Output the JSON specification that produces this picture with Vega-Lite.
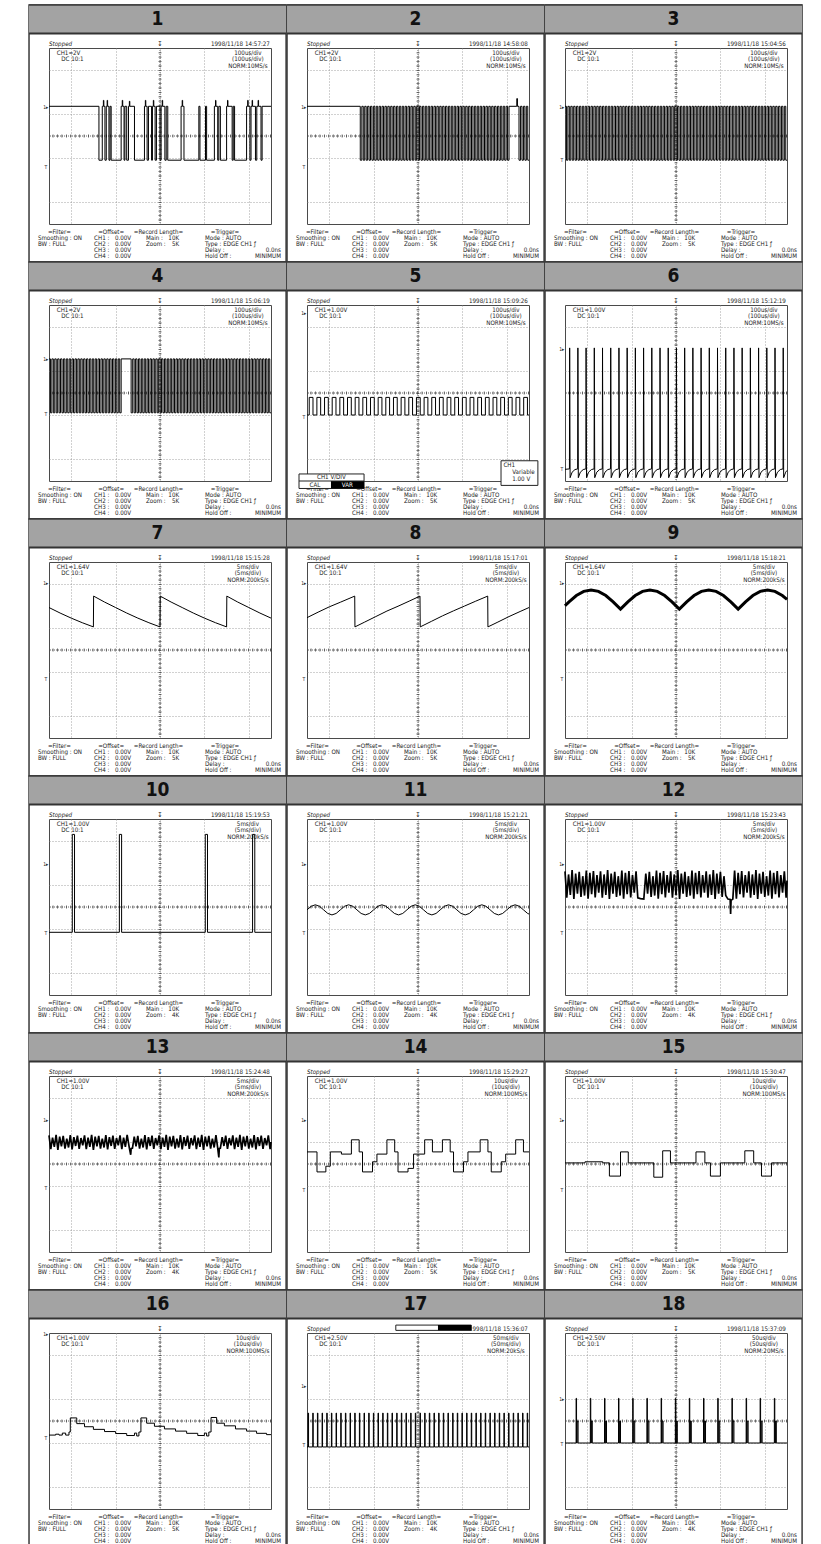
{
"$schema":"https://vega.github.io/schema/vega-lite/v6.json",
"background":"white",
"padding":{"left":27,"top":2,"right":0,"bottom":0},
"data":{"values":[
{"p":1,"x":0,"y":1.35},{"p":1,"x":2.25,"y":-1.1},{"p":1,"x":2.4,"y":1.35},{"p":1,"x":2.45,"y":1.62},{"p":1,"x":2.47,"y":1.35},{"p":1,"x":2.52,"y":-1.1},{"p":1,"x":2.58,"y":1.35},{"p":1,"x":2.62,"y":1.62},{"p":1,"x":2.64,"y":1.35},{"p":1,"x":2.7,"y":-1.1},{"p":1,"x":2.75,"y":1.35},{"p":1,"x":2.8,"y":-1.1},{"p":1,"x":3.25,"y":1.35},{"p":1,"x":3.3,"y":1.62},{"p":1,"x":3.32,"y":1.35},{"p":1,"x":3.38,"y":-1.1},{"p":1,"x":3.42,"y":1.35},{"p":1,"x":3.5,"y":-1.1},{"p":1,"x":3.58,"y":1.35},{"p":1,"x":3.62,"y":1.58},{"p":1,"x":3.64,"y":1.35},{"p":1,"x":3.85,"y":-1.1},{"p":1,"x":4.3,"y":1.35},{"p":1,"x":4.34,"y":1.62},{"p":1,"x":4.36,"y":1.35},{"p":1,"x":4.42,"y":-1.1},{"p":1,"x":4.48,"y":1.35},{"p":1,"x":4.62,"y":-1.1},{"p":1,"x":4.66,"y":1.35},{"p":1,"x":4.7,"y":1.62},{"p":1,"x":4.72,"y":1.35},{"p":1,"x":4.78,"y":-1.1},{"p":1,"x":4.84,"y":1.35},{"p":1,"x":5.0,"y":-1.1},{"p":1,"x":5.05,"y":1.35},{"p":1,"x":5.1,"y":1.62},{"p":1,"x":5.12,"y":1.35},{"p":1,"x":5.22,"y":-1.1},{"p":1,"x":5.28,"y":1.35},{"p":1,"x":5.35,"y":-1.1},{"p":1,"x":5.95,"y":1.35},{"p":1,"x":6.0,"y":1.62},{"p":1,"x":6.02,"y":1.35},{"p":1,"x":6.08,"y":-1.1},{"p":1,"x":6.75,"y":1.35},{"p":1,"x":6.8,"y":-1.1},{"p":1,"x":7.05,"y":1.35},{"p":1,"x":7.1,"y":-1.1},{"p":1,"x":7.45,"y":1.35},{"p":1,"x":7.5,"y":1.62},{"p":1,"x":7.52,"y":1.35},{"p":1,"x":7.6,"y":-1.1},{"p":1,"x":7.65,"y":1.35},{"p":1,"x":7.72,"y":-1.1},{"p":1,"x":8.0,"y":1.35},{"p":1,"x":8.04,"y":1.62},{"p":1,"x":8.06,"y":1.35},{"p":1,"x":8.25,"y":-1.1},{"p":1,"x":8.3,"y":1.35},{"p":1,"x":8.36,"y":-1.1},{"p":1,"x":8.9,"y":1.35},{"p":1,"x":8.95,"y":1.62},{"p":1,"x":8.97,"y":1.35},{"p":1,"x":9.05,"y":-1.1},{"p":1,"x":9.1,"y":1.35},{"p":1,"x":9.15,"y":1.62},{"p":1,"x":9.17,"y":1.35},{"p":1,"x":9.3,"y":-1.1},{"p":1,"x":9.36,"y":1.35},{"p":1,"x":9.42,"y":1.62},{"p":1,"x":9.44,"y":1.35},{"p":1,"x":9.55,"y":-1.1},{"p":1,"x":9.6,"y":1.35},{"p":1,"x":10,"y":1.35},
{"p":2,"x":0,"y":1.35},{"p":2,"x":2.4,"y":-1.1},{"p":2,"x":2.47,"y":1.35},{"p":2,"x":2.535,"y":-1.1},{"p":2,"x":2.6,"y":1.35},{"p":2,"x":2.665,"y":-1.1},{"p":2,"x":2.73,"y":1.35},{"p":2,"x":2.795,"y":-1.1},{"p":2,"x":2.86,"y":1.35},{"p":2,"x":2.925,"y":-1.1},{"p":2,"x":2.99,"y":1.35},{"p":2,"x":3.055,"y":-1.1},{"p":2,"x":3.12,"y":1.35},{"p":2,"x":3.185,"y":-1.1},{"p":2,"x":3.25,"y":1.35},{"p":2,"x":3.315,"y":-1.1},{"p":2,"x":3.38,"y":1.35},{"p":2,"x":3.445,"y":-1.1},{"p":2,"x":3.51,"y":1.35},{"p":2,"x":3.575,"y":-1.1},{"p":2,"x":3.64,"y":1.35},{"p":2,"x":3.705,"y":-1.1},{"p":2,"x":3.77,"y":1.35},{"p":2,"x":3.835,"y":-1.1},{"p":2,"x":3.9,"y":1.35},{"p":2,"x":3.965,"y":-1.1},{"p":2,"x":4.03,"y":1.35},{"p":2,"x":4.095,"y":-1.1},{"p":2,"x":4.16,"y":1.35},{"p":2,"x":4.225,"y":-1.1},{"p":2,"x":4.29,"y":1.35},{"p":2,"x":4.355,"y":-1.1},{"p":2,"x":4.42,"y":1.35},{"p":2,"x":4.485,"y":-1.1},{"p":2,"x":4.55,"y":1.35},{"p":2,"x":4.615,"y":-1.1},{"p":2,"x":4.68,"y":1.35},{"p":2,"x":4.745,"y":-1.1},{"p":2,"x":4.81,"y":1.35},{"p":2,"x":4.875,"y":-1.1},{"p":2,"x":4.94,"y":1.35},{"p":2,"x":5.005,"y":-1.1},{"p":2,"x":5.07,"y":1.35},{"p":2,"x":5.135,"y":-1.1},{"p":2,"x":5.2,"y":1.35},{"p":2,"x":5.265,"y":-1.1},{"p":2,"x":5.33,"y":1.35},{"p":2,"x":5.395,"y":-1.1},{"p":2,"x":5.46,"y":1.35},{"p":2,"x":5.525,"y":-1.1},{"p":2,"x":5.59,"y":1.35},{"p":2,"x":5.655,"y":-1.1},{"p":2,"x":5.72,"y":1.35},{"p":2,"x":5.785,"y":-1.1},{"p":2,"x":5.85,"y":1.35},{"p":2,"x":5.915,"y":-1.1},{"p":2,"x":5.98,"y":1.35},{"p":2,"x":6.045,"y":-1.1},{"p":2,"x":6.11,"y":1.35},{"p":2,"x":6.175,"y":-1.1},{"p":2,"x":6.24,"y":1.35},{"p":2,"x":6.305,"y":-1.1},{"p":2,"x":6.37,"y":1.35},{"p":2,"x":6.435,"y":-1.1},{"p":2,"x":6.5,"y":1.35},{"p":2,"x":6.565,"y":-1.1},{"p":2,"x":6.63,"y":1.35},{"p":2,"x":6.695,"y":-1.1},{"p":2,"x":6.76,"y":1.35},{"p":2,"x":6.825,"y":-1.1},{"p":2,"x":6.89,"y":1.35},{"p":2,"x":6.955,"y":-1.1},{"p":2,"x":7.02,"y":1.35},{"p":2,"x":7.085,"y":-1.1},{"p":2,"x":7.15,"y":1.35},{"p":2,"x":7.215,"y":-1.1},{"p":2,"x":7.28,"y":1.35},{"p":2,"x":7.345,"y":-1.1},{"p":2,"x":7.41,"y":1.35},{"p":2,"x":7.475,"y":-1.1},{"p":2,"x":7.54,"y":1.35},{"p":2,"x":7.605,"y":-1.1},{"p":2,"x":7.67,"y":1.35},{"p":2,"x":7.735,"y":-1.1},{"p":2,"x":7.8,"y":1.35},{"p":2,"x":7.865,"y":-1.1},{"p":2,"x":7.93,"y":1.35},{"p":2,"x":7.995,"y":-1.1},{"p":2,"x":8.06,"y":1.35},{"p":2,"x":8.125,"y":-1.1},{"p":2,"x":8.19,"y":1.35},{"p":2,"x":8.255,"y":-1.1},{"p":2,"x":8.32,"y":1.35},{"p":2,"x":8.385,"y":-1.1},{"p":2,"x":8.45,"y":1.35},{"p":2,"x":8.515,"y":-1.1},{"p":2,"x":8.58,"y":1.35},{"p":2,"x":8.645,"y":-1.1},{"p":2,"x":8.71,"y":1.35},{"p":2,"x":8.775,"y":-1.1},{"p":2,"x":8.84,"y":1.35},{"p":2,"x":8.905,"y":-1.1},{"p":2,"x":8.97,"y":1.35},{"p":2,"x":9.035,"y":-1.1},{"p":2,"x":9.1,"y":1.35},{"p":2,"x":9.45,"y":1.7},{"p":2,"x":9.48,"y":1.35},{"p":2,"x":9.55,"y":-1.1},{"p":2,"x":9.62,"y":1.35},{"p":2,"x":9.685,"y":-1.1},{"p":2,"x":9.75,"y":1.35},{"p":2,"x":9.815,"y":-1.1},{"p":2,"x":9.88,"y":1.35},{"p":2,"x":9.945,"y":-1.1},{"p":2,"x":10,"y":-1.1},
{"p":3,"x":0,"y":1.35},{"p":3,"x":0.065,"y":-1.1},{"p":3,"x":0.13,"y":1.35},{"p":3,"x":0.195,"y":-1.1},{"p":3,"x":0.26,"y":1.35},{"p":3,"x":0.325,"y":-1.1},{"p":3,"x":0.39,"y":1.35},{"p":3,"x":0.455,"y":-1.1},{"p":3,"x":0.52,"y":1.35},{"p":3,"x":0.585,"y":-1.1},{"p":3,"x":0.65,"y":1.35},{"p":3,"x":0.715,"y":-1.1},{"p":3,"x":0.78,"y":1.35},{"p":3,"x":0.845,"y":-1.1},{"p":3,"x":0.91,"y":1.35},{"p":3,"x":0.975,"y":-1.1},{"p":3,"x":1.04,"y":1.35},{"p":3,"x":1.105,"y":-1.1},{"p":3,"x":1.17,"y":1.35},{"p":3,"x":1.235,"y":-1.1},{"p":3,"x":1.3,"y":1.35},{"p":3,"x":1.365,"y":-1.1},{"p":3,"x":1.43,"y":1.35},{"p":3,"x":1.495,"y":-1.1},{"p":3,"x":1.56,"y":1.35},{"p":3,"x":1.625,"y":-1.1},{"p":3,"x":1.69,"y":1.35},{"p":3,"x":1.755,"y":-1.1},{"p":3,"x":1.82,"y":1.35},{"p":3,"x":1.885,"y":-1.1},{"p":3,"x":1.95,"y":1.35},{"p":3,"x":2.015,"y":-1.1},{"p":3,"x":2.08,"y":1.35},{"p":3,"x":2.145,"y":-1.1},{"p":3,"x":2.21,"y":1.35},{"p":3,"x":2.275,"y":-1.1},{"p":3,"x":2.34,"y":1.35},{"p":3,"x":2.405,"y":-1.1},{"p":3,"x":2.47,"y":1.35},{"p":3,"x":2.535,"y":-1.1},{"p":3,"x":2.6,"y":1.35},{"p":3,"x":2.665,"y":-1.1},{"p":3,"x":2.73,"y":1.35},{"p":3,"x":2.795,"y":-1.1},{"p":3,"x":2.86,"y":1.35},{"p":3,"x":2.925,"y":-1.1},{"p":3,"x":2.99,"y":1.35},{"p":3,"x":3.055,"y":-1.1},{"p":3,"x":3.12,"y":1.35},{"p":3,"x":3.185,"y":-1.1},{"p":3,"x":3.25,"y":1.35},{"p":3,"x":3.315,"y":-1.1},{"p":3,"x":3.38,"y":1.35},{"p":3,"x":3.445,"y":-1.1},{"p":3,"x":3.51,"y":1.35},{"p":3,"x":3.575,"y":-1.1},{"p":3,"x":3.64,"y":1.35},{"p":3,"x":3.705,"y":-1.1},{"p":3,"x":3.77,"y":1.35},{"p":3,"x":3.835,"y":-1.1},{"p":3,"x":3.9,"y":1.35},{"p":3,"x":3.965,"y":-1.1},{"p":3,"x":4.03,"y":1.35},{"p":3,"x":4.095,"y":-1.1},{"p":3,"x":4.16,"y":1.35},{"p":3,"x":4.225,"y":-1.1},{"p":3,"x":4.29,"y":1.35},{"p":3,"x":4.355,"y":-1.1},{"p":3,"x":4.42,"y":1.35},{"p":3,"x":4.485,"y":-1.1},{"p":3,"x":4.55,"y":1.35},{"p":3,"x":4.615,"y":-1.1},{"p":3,"x":4.68,"y":1.35},{"p":3,"x":4.745,"y":-1.1},{"p":3,"x":4.81,"y":1.35},{"p":3,"x":4.875,"y":-1.1},{"p":3,"x":4.94,"y":1.35},{"p":3,"x":5.005,"y":-1.1},{"p":3,"x":5.07,"y":1.35},{"p":3,"x":5.135,"y":-1.1},{"p":3,"x":5.2,"y":1.35},{"p":3,"x":5.265,"y":-1.1},{"p":3,"x":5.33,"y":1.35},{"p":3,"x":5.395,"y":-1.1},{"p":3,"x":5.46,"y":1.35},{"p":3,"x":5.525,"y":-1.1},{"p":3,"x":5.59,"y":1.35},{"p":3,"x":5.655,"y":-1.1},{"p":3,"x":5.72,"y":1.35},{"p":3,"x":5.785,"y":-1.1},{"p":3,"x":5.85,"y":1.35},{"p":3,"x":5.915,"y":-1.1},{"p":3,"x":5.98,"y":1.35},{"p":3,"x":6.045,"y":-1.1},{"p":3,"x":6.11,"y":1.35},{"p":3,"x":6.175,"y":-1.1},{"p":3,"x":6.24,"y":1.35},{"p":3,"x":6.305,"y":-1.1},{"p":3,"x":6.37,"y":1.35},{"p":3,"x":6.435,"y":-1.1},{"p":3,"x":6.5,"y":1.35},{"p":3,"x":6.565,"y":-1.1},{"p":3,"x":6.63,"y":1.35},{"p":3,"x":6.695,"y":-1.1},{"p":3,"x":6.76,"y":1.35},{"p":3,"x":6.825,"y":-1.1},{"p":3,"x":6.89,"y":1.35},{"p":3,"x":6.955,"y":-1.1},{"p":3,"x":7.02,"y":1.35},{"p":3,"x":7.085,"y":-1.1},{"p":3,"x":7.15,"y":1.35},{"p":3,"x":7.215,"y":-1.1},{"p":3,"x":7.28,"y":1.35},{"p":3,"x":7.345,"y":-1.1},{"p":3,"x":7.41,"y":1.35},{"p":3,"x":7.475,"y":-1.1},{"p":3,"x":7.54,"y":1.35},{"p":3,"x":7.605,"y":-1.1},{"p":3,"x":7.67,"y":1.35},{"p":3,"x":7.735,"y":-1.1},{"p":3,"x":7.8,"y":1.35},{"p":3,"x":7.865,"y":-1.1},{"p":3,"x":7.93,"y":1.35},{"p":3,"x":7.995,"y":-1.1},{"p":3,"x":8.06,"y":1.35},{"p":3,"x":8.125,"y":-1.1},{"p":3,"x":8.19,"y":1.35},{"p":3,"x":8.255,"y":-1.1},{"p":3,"x":8.32,"y":1.35},{"p":3,"x":8.385,"y":-1.1},{"p":3,"x":8.45,"y":1.35},{"p":3,"x":8.515,"y":-1.1},{"p":3,"x":8.58,"y":1.35},{"p":3,"x":8.645,"y":-1.1},{"p":3,"x":8.71,"y":1.35},{"p":3,"x":8.775,"y":-1.1},{"p":3,"x":8.84,"y":1.35},{"p":3,"x":8.905,"y":-1.1},{"p":3,"x":8.97,"y":1.35},{"p":3,"x":9.035,"y":-1.1},{"p":3,"x":9.1,"y":1.35},{"p":3,"x":9.165,"y":-1.1},{"p":3,"x":9.23,"y":1.35},{"p":3,"x":9.295,"y":-1.1},{"p":3,"x":9.36,"y":1.35},{"p":3,"x":9.425,"y":-1.1},{"p":3,"x":9.49,"y":1.35},{"p":3,"x":9.555,"y":-1.1},{"p":3,"x":9.62,"y":1.35},{"p":3,"x":9.685,"y":-1.1},{"p":3,"x":9.75,"y":1.35},{"p":3,"x":9.815,"y":-1.1},{"p":3,"x":9.88,"y":1.35},{"p":3,"x":9.945,"y":-1.1},{"p":3,"x":10,"y":-1.1},
{"p":4,"x":0,"y":1.55},{"p":4,"x":0.065,"y":-0.9},{"p":4,"x":0.13,"y":1.55},{"p":4,"x":0.195,"y":-0.9},{"p":4,"x":0.26,"y":1.55},{"p":4,"x":0.325,"y":-0.9},{"p":4,"x":0.39,"y":1.55},{"p":4,"x":0.455,"y":-0.9},{"p":4,"x":0.52,"y":1.55},{"p":4,"x":0.585,"y":-0.9},{"p":4,"x":0.65,"y":1.55},{"p":4,"x":0.715,"y":-0.9},{"p":4,"x":0.78,"y":1.55},{"p":4,"x":0.845,"y":-0.9},{"p":4,"x":0.91,"y":1.55},{"p":4,"x":0.975,"y":-0.9},{"p":4,"x":1.04,"y":1.55},{"p":4,"x":1.105,"y":-0.9},{"p":4,"x":1.17,"y":1.55},{"p":4,"x":1.235,"y":-0.9},{"p":4,"x":1.3,"y":1.55},{"p":4,"x":1.365,"y":-0.9},{"p":4,"x":1.43,"y":1.55},{"p":4,"x":1.495,"y":-0.9},{"p":4,"x":1.56,"y":1.55},{"p":4,"x":1.625,"y":-0.9},{"p":4,"x":1.69,"y":1.55},{"p":4,"x":1.755,"y":-0.9},{"p":4,"x":1.82,"y":1.55},{"p":4,"x":1.885,"y":-0.9},{"p":4,"x":1.95,"y":1.55},{"p":4,"x":2.015,"y":-0.9},{"p":4,"x":2.08,"y":1.55},{"p":4,"x":2.145,"y":-0.9},{"p":4,"x":2.21,"y":1.55},{"p":4,"x":2.275,"y":-0.9},{"p":4,"x":2.34,"y":1.55},{"p":4,"x":2.405,"y":-0.9},{"p":4,"x":2.47,"y":1.55},{"p":4,"x":2.535,"y":-0.9},{"p":4,"x":2.6,"y":1.55},{"p":4,"x":2.665,"y":-0.9},{"p":4,"x":2.73,"y":1.55},{"p":4,"x":2.795,"y":-0.9},{"p":4,"x":2.86,"y":1.55},{"p":4,"x":2.925,"y":-0.9},{"p":4,"x":2.99,"y":1.55},{"p":4,"x":3.055,"y":-0.9},{"p":4,"x":3.12,"y":1.55},{"p":4,"x":3.185,"y":-0.9},{"p":4,"x":3.25,"y":1.55},{"p":4,"x":3.7,"y":-0.9},{"p":4,"x":3.77,"y":1.55},{"p":4,"x":3.835,"y":-0.9},{"p":4,"x":3.9,"y":1.55},{"p":4,"x":3.965,"y":-0.9},{"p":4,"x":4.03,"y":1.55},{"p":4,"x":4.095,"y":-0.9},{"p":4,"x":4.16,"y":1.55},{"p":4,"x":4.225,"y":-0.9},{"p":4,"x":4.29,"y":1.55},{"p":4,"x":4.355,"y":-0.9},{"p":4,"x":4.42,"y":1.55},{"p":4,"x":4.485,"y":-0.9},{"p":4,"x":4.55,"y":1.55},{"p":4,"x":4.615,"y":-0.9},{"p":4,"x":4.68,"y":1.55},{"p":4,"x":4.745,"y":-0.9},{"p":4,"x":4.81,"y":1.55},{"p":4,"x":4.875,"y":-0.9},{"p":4,"x":4.94,"y":1.55},{"p":4,"x":5.005,"y":-0.9},{"p":4,"x":5.07,"y":1.55},{"p":4,"x":5.135,"y":-0.9},{"p":4,"x":5.2,"y":1.55},{"p":4,"x":5.265,"y":-0.9},{"p":4,"x":5.33,"y":1.55},{"p":4,"x":5.395,"y":-0.9},{"p":4,"x":5.46,"y":1.55},{"p":4,"x":5.525,"y":-0.9},{"p":4,"x":5.59,"y":1.55},{"p":4,"x":5.655,"y":-0.9},{"p":4,"x":5.72,"y":1.55},{"p":4,"x":5.785,"y":-0.9},{"p":4,"x":5.85,"y":1.55},{"p":4,"x":5.915,"y":-0.9},{"p":4,"x":5.98,"y":1.55},{"p":4,"x":6.045,"y":-0.9},{"p":4,"x":6.11,"y":1.55},{"p":4,"x":6.175,"y":-0.9},{"p":4,"x":6.24,"y":1.55},{"p":4,"x":6.305,"y":-0.9},{"p":4,"x":6.37,"y":1.55},{"p":4,"x":6.435,"y":-0.9},{"p":4,"x":6.5,"y":1.55},{"p":4,"x":6.565,"y":-0.9},{"p":4,"x":6.63,"y":1.55},{"p":4,"x":6.695,"y":-0.9},{"p":4,"x":6.76,"y":1.55},{"p":4,"x":6.825,"y":-0.9},{"p":4,"x":6.89,"y":1.55},{"p":4,"x":6.955,"y":-0.9},{"p":4,"x":7.02,"y":1.55},{"p":4,"x":7.085,"y":-0.9},{"p":4,"x":7.15,"y":1.55},{"p":4,"x":7.215,"y":-0.9},{"p":4,"x":7.28,"y":1.55},{"p":4,"x":7.345,"y":-0.9},{"p":4,"x":7.41,"y":1.55},{"p":4,"x":7.475,"y":-0.9},{"p":4,"x":7.54,"y":1.55},{"p":4,"x":7.605,"y":-0.9},{"p":4,"x":7.67,"y":1.55},{"p":4,"x":7.735,"y":-0.9},{"p":4,"x":7.8,"y":1.55},{"p":4,"x":7.865,"y":-0.9},{"p":4,"x":7.93,"y":1.55},{"p":4,"x":7.995,"y":-0.9},{"p":4,"x":8.06,"y":1.55},{"p":4,"x":8.125,"y":-0.9},{"p":4,"x":8.19,"y":1.55},{"p":4,"x":8.255,"y":-0.9},{"p":4,"x":8.32,"y":1.55},{"p":4,"x":8.385,"y":-0.9},{"p":4,"x":8.45,"y":1.55},{"p":4,"x":8.515,"y":-0.9},{"p":4,"x":8.58,"y":1.55},{"p":4,"x":8.645,"y":-0.9},{"p":4,"x":8.71,"y":1.55},{"p":4,"x":8.775,"y":-0.9},{"p":4,"x":8.84,"y":1.55},{"p":4,"x":8.905,"y":-0.9},{"p":4,"x":8.97,"y":1.55},{"p":4,"x":9.035,"y":-0.9},{"p":4,"x":9.1,"y":1.55},{"p":4,"x":9.165,"y":-0.9},{"p":4,"x":9.23,"y":1.55},{"p":4,"x":9.295,"y":-0.9},{"p":4,"x":9.36,"y":1.55},{"p":4,"x":9.425,"y":-0.9},{"p":4,"x":9.49,"y":1.55},{"p":4,"x":9.555,"y":-0.9},{"p":4,"x":9.62,"y":1.55},{"p":4,"x":9.685,"y":-0.9},{"p":4,"x":9.75,"y":1.55},{"p":4,"x":9.815,"y":-0.9},{"p":4,"x":9.88,"y":1.55},{"p":4,"x":9.945,"y":-0.9},{"p":4,"x":10,"y":-0.9},
{"p":5,"x":0,"y":-1.0},{"p":5,"x":0.1,"y":-0.2},{"p":5,"x":0.27,"y":-1.0},{"p":5,"x":0.445,"y":-0.2},{"p":5,"x":0.615,"y":-1.0},{"p":5,"x":0.79,"y":-0.2},{"p":5,"x":0.96,"y":-1.0},{"p":5,"x":1.135,"y":-0.2},{"p":5,"x":1.305,"y":-1.0},{"p":5,"x":1.48,"y":-0.2},{"p":5,"x":1.65,"y":-1.0},{"p":5,"x":1.825,"y":-0.2},{"p":5,"x":1.995,"y":-1.0},{"p":5,"x":2.17,"y":-0.2},{"p":5,"x":2.34,"y":-1.0},{"p":5,"x":2.515,"y":-0.2},{"p":5,"x":2.685,"y":-1.0},{"p":5,"x":2.86,"y":-0.2},{"p":5,"x":3.03,"y":-1.0},{"p":5,"x":3.205,"y":-0.2},{"p":5,"x":3.375,"y":-1.0},{"p":5,"x":3.55,"y":-0.2},{"p":5,"x":3.72,"y":-1.0},{"p":5,"x":3.895,"y":-0.2},{"p":5,"x":4.065,"y":-1.0},{"p":5,"x":4.24,"y":-0.2},{"p":5,"x":4.41,"y":-1.0},{"p":5,"x":4.585,"y":-0.2},{"p":5,"x":4.755,"y":-1.0},{"p":5,"x":4.93,"y":-0.2},{"p":5,"x":5.1,"y":-1.0},{"p":5,"x":5.275,"y":-0.2},{"p":5,"x":5.445,"y":-1.0},{"p":5,"x":5.62,"y":-0.2},{"p":5,"x":5.79,"y":-1.0},{"p":5,"x":5.965,"y":-0.2},{"p":5,"x":6.135,"y":-1.0},{"p":5,"x":6.31,"y":-0.2},{"p":5,"x":6.48,"y":-1.0},{"p":5,"x":6.655,"y":-0.2},{"p":5,"x":6.825,"y":-1.0},{"p":5,"x":7.0,"y":-0.2},{"p":5,"x":7.17,"y":-1.0},{"p":5,"x":7.345,"y":-0.2},{"p":5,"x":7.515,"y":-1.0},{"p":5,"x":7.69,"y":-0.2},{"p":5,"x":7.86,"y":-1.0},{"p":5,"x":8.035,"y":-0.2},{"p":5,"x":8.205,"y":-1.0},{"p":5,"x":8.38,"y":-0.2},{"p":5,"x":8.55,"y":-1.0},{"p":5,"x":8.725,"y":-0.2},{"p":5,"x":8.895,"y":-1.0},{"p":5,"x":9.07,"y":-0.2},{"p":5,"x":9.24,"y":-1.0},{"p":5,"x":9.415,"y":-0.2},{"p":5,"x":9.585,"y":-1.0},{"p":5,"x":9.76,"y":-0.2},{"p":5,"x":9.93,"y":-1.0},{"p":5,"x":10,"y":-1.0},
{"p":6,"x":0,"y":-3.47},{"p":6,"x":0.2,"y":-3.45},{"p":6,"x":0.21,"y":2.05},{"p":6,"x":0.23,"y":-3.85},{"p":6,"x":0.32,"y":-3.6},{"p":6,"x":0.45,"y":-3.48},{"p":6,"x":0.57,"y":-3.45},{"p":6,"x":0.58,"y":2.05},{"p":6,"x":0.6,"y":-3.85},{"p":6,"x":0.69,"y":-3.6},{"p":6,"x":0.82,"y":-3.48},{"p":6,"x":0.94,"y":-3.45},{"p":6,"x":0.95,"y":2.05},{"p":6,"x":0.97,"y":-3.85},{"p":6,"x":1.06,"y":-3.6},{"p":6,"x":1.19,"y":-3.48},{"p":6,"x":1.31,"y":-3.45},{"p":6,"x":1.32,"y":2.05},{"p":6,"x":1.34,"y":-3.85},{"p":6,"x":1.43,"y":-3.6},{"p":6,"x":1.56,"y":-3.48},{"p":6,"x":1.68,"y":-3.45},{"p":6,"x":1.69,"y":2.05},{"p":6,"x":1.71,"y":-3.85},{"p":6,"x":1.8,"y":-3.6},{"p":6,"x":1.93,"y":-3.48},{"p":6,"x":2.05,"y":-3.45},{"p":6,"x":2.06,"y":2.05},{"p":6,"x":2.08,"y":-3.85},{"p":6,"x":2.17,"y":-3.6},{"p":6,"x":2.3,"y":-3.48},{"p":6,"x":2.42,"y":-3.45},{"p":6,"x":2.43,"y":2.05},{"p":6,"x":2.45,"y":-3.85},{"p":6,"x":2.54,"y":-3.6},{"p":6,"x":2.67,"y":-3.48},{"p":6,"x":2.79,"y":-3.45},{"p":6,"x":2.8,"y":2.05},{"p":6,"x":2.82,"y":-3.85},{"p":6,"x":2.91,"y":-3.6},{"p":6,"x":3.04,"y":-3.48},{"p":6,"x":3.16,"y":-3.45},{"p":6,"x":3.17,"y":2.05},{"p":6,"x":3.19,"y":-3.85},{"p":6,"x":3.28,"y":-3.6},{"p":6,"x":3.41,"y":-3.48},{"p":6,"x":3.53,"y":-3.45},{"p":6,"x":3.54,"y":2.05},{"p":6,"x":3.56,"y":-3.85},{"p":6,"x":3.65,"y":-3.6},{"p":6,"x":3.78,"y":-3.48},{"p":6,"x":3.9,"y":-3.45},{"p":6,"x":3.91,"y":2.05},{"p":6,"x":3.93,"y":-3.85},{"p":6,"x":4.02,"y":-3.6},{"p":6,"x":4.15,"y":-3.48},{"p":6,"x":4.27,"y":-3.45},{"p":6,"x":4.28,"y":2.05},{"p":6,"x":4.3,"y":-3.85},{"p":6,"x":4.39,"y":-3.6},{"p":6,"x":4.52,"y":-3.48},{"p":6,"x":4.64,"y":-3.45},{"p":6,"x":4.65,"y":2.05},{"p":6,"x":4.67,"y":-3.85},{"p":6,"x":4.76,"y":-3.6},{"p":6,"x":4.89,"y":-3.48},{"p":6,"x":5.01,"y":-3.45},{"p":6,"x":5.02,"y":2.05},{"p":6,"x":5.04,"y":-3.85},{"p":6,"x":5.13,"y":-3.6},{"p":6,"x":5.26,"y":-3.48},{"p":6,"x":5.38,"y":-3.45},{"p":6,"x":5.39,"y":2.05},{"p":6,"x":5.41,"y":-3.85},{"p":6,"x":5.5,"y":-3.6},{"p":6,"x":5.63,"y":-3.48},{"p":6,"x":5.75,"y":-3.45},{"p":6,"x":5.76,"y":2.05},{"p":6,"x":5.78,"y":-3.85},{"p":6,"x":5.87,"y":-3.6},{"p":6,"x":6.0,"y":-3.48},{"p":6,"x":6.12,"y":-3.45},{"p":6,"x":6.13,"y":2.05},{"p":6,"x":6.15,"y":-3.85},{"p":6,"x":6.24,"y":-3.6},{"p":6,"x":6.37,"y":-3.48},{"p":6,"x":6.49,"y":-3.45},{"p":6,"x":6.5,"y":2.05},{"p":6,"x":6.52,"y":-3.85},{"p":6,"x":6.61,"y":-3.6},{"p":6,"x":6.74,"y":-3.48},{"p":6,"x":6.86,"y":-3.45},{"p":6,"x":6.87,"y":2.05},{"p":6,"x":6.89,"y":-3.85},{"p":6,"x":6.98,"y":-3.6},{"p":6,"x":7.11,"y":-3.48},{"p":6,"x":7.23,"y":-3.45},{"p":6,"x":7.24,"y":2.05},{"p":6,"x":7.26,"y":-3.85},{"p":6,"x":7.35,"y":-3.6},{"p":6,"x":7.48,"y":-3.48},{"p":6,"x":7.6,"y":-3.45},{"p":6,"x":7.61,"y":2.05},{"p":6,"x":7.63,"y":-3.85},{"p":6,"x":7.72,"y":-3.6},{"p":6,"x":7.85,"y":-3.48},{"p":6,"x":7.97,"y":-3.45},{"p":6,"x":7.98,"y":2.05},{"p":6,"x":8.0,"y":-3.85},{"p":6,"x":8.09,"y":-3.6},{"p":6,"x":8.22,"y":-3.48},{"p":6,"x":8.34,"y":-3.45},{"p":6,"x":8.35,"y":2.05},{"p":6,"x":8.37,"y":-3.85},{"p":6,"x":8.46,"y":-3.6},{"p":6,"x":8.59,"y":-3.48},{"p":6,"x":8.71,"y":-3.45},{"p":6,"x":8.72,"y":2.05},{"p":6,"x":8.74,"y":-3.85},{"p":6,"x":8.83,"y":-3.6},{"p":6,"x":8.96,"y":-3.48},{"p":6,"x":9.08,"y":-3.45},{"p":6,"x":9.09,"y":2.05},{"p":6,"x":9.11,"y":-3.85},{"p":6,"x":9.2,"y":-3.6},{"p":6,"x":9.33,"y":-3.48},{"p":6,"x":9.45,"y":-3.45},{"p":6,"x":9.46,"y":2.05},{"p":6,"x":9.48,"y":-3.85},{"p":6,"x":9.57,"y":-3.6},{"p":6,"x":9.7,"y":-3.48},{"p":6,"x":9.82,"y":-3.45},{"p":6,"x":9.83,"y":2.05},{"p":6,"x":9.85,"y":-3.85},{"p":6,"x":9.94,"y":-3.6},{"p":6,"x":10,"y":-3.52},
{"p":7,"x":0,"y":1.93},{"p":7,"x":0.5,"y":1.68},{"p":7,"x":1.0,"y":1.45},{"p":7,"x":1.5,"y":1.24},{"p":7,"x":2.0,"y":1.05},{"p":7,"x":2.01,"y":2.45},{"p":7,"x":2.5,"y":2.18},{"p":7,"x":3.0,"y":1.93},{"p":7,"x":3.5,"y":1.68},{"p":7,"x":4.0,"y":1.45},{"p":7,"x":4.5,"y":1.24},{"p":7,"x":5.0,"y":1.05},{"p":7,"x":5.01,"y":2.45},{"p":7,"x":5.5,"y":2.18},{"p":7,"x":6.0,"y":1.93},{"p":7,"x":6.5,"y":1.68},{"p":7,"x":7.0,"y":1.45},{"p":7,"x":7.5,"y":1.24},{"p":7,"x":8.0,"y":1.05},{"p":7,"x":8.01,"y":2.45},{"p":7,"x":8.5,"y":2.18},{"p":7,"x":9.0,"y":1.93},{"p":7,"x":9.5,"y":1.68},{"p":7,"x":10,"y":1.45},
{"p":8,"x":0,"y":1.47},{"p":8,"x":0.5,"y":1.72},{"p":8,"x":1.0,"y":1.96},{"p":8,"x":1.5,"y":2.17},{"p":8,"x":2.15,"y":2.45},{"p":8,"x":2.16,"y":1.05},{"p":8,"x":2.6,"y":1.27},{"p":8,"x":3.1,"y":1.52},{"p":8,"x":3.6,"y":1.77},{"p":8,"x":4.1,"y":1.99},{"p":8,"x":4.6,"y":2.22},{"p":8,"x":5.09,"y":2.45},{"p":8,"x":5.1,"y":1.05},{"p":8,"x":5.6,"y":1.3},{"p":8,"x":6.1,"y":1.55},{"p":8,"x":6.6,"y":1.78},{"p":8,"x":7.1,"y":2.0},{"p":8,"x":7.6,"y":2.22},{"p":8,"x":8.14,"y":2.45},{"p":8,"x":8.15,"y":1.05},{"p":8,"x":8.6,"y":1.27},{"p":8,"x":9.1,"y":1.52},{"p":8,"x":9.6,"y":1.75},{"p":8,"x":10,"y":1.93},
{"p":9,"x":0,"y":2.01},{"p":9,"x":0.181,"y":2.19},{"p":9,"x":0.513,"y":2.475},{"p":9,"x":0.844,"y":2.664},{"p":9,"x":1.175,"y":2.73},{"p":9,"x":1.506,"y":2.664},{"p":9,"x":1.838,"y":2.475},{"p":9,"x":2.169,"y":2.19},{"p":9,"x":2.5,"y":1.86},{"p":9,"x":2.831,"y":2.19},{"p":9,"x":3.163,"y":2.475},{"p":9,"x":3.494,"y":2.664},{"p":9,"x":3.825,"y":2.73},{"p":9,"x":4.156,"y":2.664},{"p":9,"x":4.488,"y":2.475},{"p":9,"x":4.819,"y":2.19},{"p":9,"x":5.15,"y":1.86},{"p":9,"x":5.481,"y":2.19},{"p":9,"x":5.813,"y":2.475},{"p":9,"x":6.144,"y":2.664},{"p":9,"x":6.475,"y":2.73},{"p":9,"x":6.806,"y":2.664},{"p":9,"x":7.138,"y":2.475},{"p":9,"x":7.469,"y":2.19},{"p":9,"x":7.8,"y":1.86},{"p":9,"x":8.131,"y":2.19},{"p":9,"x":8.463,"y":2.475},{"p":9,"x":8.794,"y":2.664},{"p":9,"x":9.125,"y":2.73},{"p":9,"x":9.456,"y":2.664},{"p":9,"x":9.788,"y":2.475},{"p":9,"x":10,"y":2.3},
{"p":10,"x":0,"y":-1.15},{"p":10,"x":1.05,"y":3.3},{"p":10,"x":1.15,"y":-1.15},{"p":10,"x":3.17,"y":3.3},{"p":10,"x":3.27,"y":-1.15},{"p":10,"x":7.04,"y":3.3},{"p":10,"x":7.14,"y":-1.15},{"p":10,"x":9.17,"y":3.3},{"p":10,"x":9.27,"y":-1.15},{"p":10,"x":10,"y":-1.15},
{"p":11,"x":0,"y":-0.13},{"p":11,"x":0.188,"y":0.033},{"p":11,"x":0.375,"y":0.1},{"p":11,"x":0.563,"y":0.033},{"p":11,"x":0.75,"y":-0.13},{"p":11,"x":0.938,"y":-0.293},{"p":11,"x":1.125,"y":-0.36},{"p":11,"x":1.313,"y":-0.293},{"p":11,"x":1.5,"y":-0.13},{"p":11,"x":1.688,"y":0.033},{"p":11,"x":1.875,"y":0.1},{"p":11,"x":2.063,"y":0.033},{"p":11,"x":2.25,"y":-0.13},{"p":11,"x":2.438,"y":-0.293},{"p":11,"x":2.625,"y":-0.36},{"p":11,"x":2.813,"y":-0.293},{"p":11,"x":3.0,"y":-0.13},{"p":11,"x":3.188,"y":0.033},{"p":11,"x":3.375,"y":0.1},{"p":11,"x":3.563,"y":0.033},{"p":11,"x":3.75,"y":-0.13},{"p":11,"x":3.938,"y":-0.293},{"p":11,"x":4.125,"y":-0.36},{"p":11,"x":4.313,"y":-0.293},{"p":11,"x":4.5,"y":-0.13},{"p":11,"x":4.688,"y":0.033},{"p":11,"x":4.875,"y":0.1},{"p":11,"x":5.063,"y":0.033},{"p":11,"x":5.25,"y":-0.13},{"p":11,"x":5.438,"y":-0.293},{"p":11,"x":5.625,"y":-0.36},{"p":11,"x":5.813,"y":-0.293},{"p":11,"x":6.0,"y":-0.13},{"p":11,"x":6.188,"y":0.033},{"p":11,"x":6.375,"y":0.1},{"p":11,"x":6.563,"y":0.033},{"p":11,"x":6.75,"y":-0.13},{"p":11,"x":6.938,"y":-0.293},{"p":11,"x":7.125,"y":-0.36},{"p":11,"x":7.313,"y":-0.293},{"p":11,"x":7.5,"y":-0.13},{"p":11,"x":7.688,"y":0.033},{"p":11,"x":7.875,"y":0.1},{"p":11,"x":8.063,"y":0.033},{"p":11,"x":8.25,"y":-0.13},{"p":11,"x":8.438,"y":-0.293},{"p":11,"x":8.625,"y":-0.36},{"p":11,"x":8.813,"y":-0.293},{"p":11,"x":9.0,"y":-0.13},{"p":11,"x":9.188,"y":0.033},{"p":11,"x":9.375,"y":0.1},{"p":11,"x":9.563,"y":0.033},{"p":11,"x":9.75,"y":-0.13},{"p":11,"x":9.938,"y":-0.293},{"p":11,"x":10,"y":-0.32},
{"p":12,"x":0,"y":1.62},{"p":12,"x":0.08,"y":0.42},{"p":12,"x":0.16,"y":1.48},{"p":12,"x":0.24,"y":0.55},{"p":12,"x":0.32,"y":1.68},{"p":12,"x":0.4,"y":0.37},{"p":12,"x":0.48,"y":1.52},{"p":12,"x":0.56,"y":0.6},{"p":12,"x":0.64,"y":1.6},{"p":12,"x":0.72,"y":0.46},{"p":12,"x":0.8,"y":1.4},{"p":12,"x":0.88,"y":0.52},{"p":12,"x":0.96,"y":1.66},{"p":12,"x":1.04,"y":0.38},{"p":12,"x":1.12,"y":1.55},{"p":12,"x":1.2,"y":0.58},{"p":12,"x":1.28,"y":1.63},{"p":12,"x":1.36,"y":0.44},{"p":12,"x":1.44,"y":1.45},{"p":12,"x":1.52,"y":0.65},{"p":12,"x":1.6,"y":1.62},{"p":12,"x":1.68,"y":0.42},{"p":12,"x":1.76,"y":1.48},{"p":12,"x":1.84,"y":0.55},{"p":12,"x":1.92,"y":1.68},{"p":12,"x":2.0,"y":0.37},{"p":12,"x":2.08,"y":1.52},{"p":12,"x":2.16,"y":0.6},{"p":12,"x":2.24,"y":1.6},{"p":12,"x":2.32,"y":0.46},{"p":12,"x":2.4,"y":1.4},{"p":12,"x":2.48,"y":0.52},{"p":12,"x":2.56,"y":1.66},{"p":12,"x":2.64,"y":0.38},{"p":12,"x":2.72,"y":1.55},{"p":12,"x":2.8,"y":0.58},{"p":12,"x":2.88,"y":1.63},{"p":12,"x":2.96,"y":0.44},{"p":12,"x":3.04,"y":1.45},{"p":12,"x":3.12,"y":0.65},{"p":12,"x":3.2,"y":1.62},{"p":12,"x":3.28,"y":0.42},{"p":12,"x":3.4,"y":0.38},{"p":12,"x":3.55,"y":0.36},{"p":12,"x":3.64,"y":1.52},{"p":12,"x":3.72,"y":0.6},{"p":12,"x":3.8,"y":1.6},{"p":12,"x":3.88,"y":0.46},{"p":12,"x":3.96,"y":1.4},{"p":12,"x":4.04,"y":0.52},{"p":12,"x":4.12,"y":1.66},{"p":12,"x":4.2,"y":0.38},{"p":12,"x":4.28,"y":1.55},{"p":12,"x":4.36,"y":0.58},{"p":12,"x":4.44,"y":1.63},{"p":12,"x":4.52,"y":0.44},{"p":12,"x":4.6,"y":1.45},{"p":12,"x":4.68,"y":0.65},{"p":12,"x":4.76,"y":1.62},{"p":12,"x":4.84,"y":0.42},{"p":12,"x":4.92,"y":1.48},{"p":12,"x":5.0,"y":0.55},{"p":12,"x":5.08,"y":1.68},{"p":12,"x":5.16,"y":0.37},{"p":12,"x":5.24,"y":1.52},{"p":12,"x":5.32,"y":0.6},{"p":12,"x":5.4,"y":1.6},{"p":12,"x":5.48,"y":0.46},{"p":12,"x":5.56,"y":1.4},{"p":12,"x":5.64,"y":0.52},{"p":12,"x":5.72,"y":1.66},{"p":12,"x":5.8,"y":0.38},{"p":12,"x":5.88,"y":1.55},{"p":12,"x":5.96,"y":0.58},{"p":12,"x":6.04,"y":1.63},{"p":12,"x":6.12,"y":0.44},{"p":12,"x":6.2,"y":1.45},{"p":12,"x":6.28,"y":0.65},{"p":12,"x":6.36,"y":1.62},{"p":12,"x":6.44,"y":0.42},{"p":12,"x":6.52,"y":1.48},{"p":12,"x":6.6,"y":0.55},{"p":12,"x":6.68,"y":1.68},{"p":12,"x":6.76,"y":0.37},{"p":12,"x":6.84,"y":1.52},{"p":12,"x":6.92,"y":0.6},{"p":12,"x":7.0,"y":1.6},{"p":12,"x":7.08,"y":0.46},{"p":12,"x":7.16,"y":1.4},{"p":12,"x":7.24,"y":0.52},{"p":12,"x":7.34,"y":0.36},{"p":12,"x":7.44,"y":0.34},{"p":12,"x":7.46,"y":-0.32},{"p":12,"x":7.48,"y":0.3},{"p":12,"x":7.56,"y":0.36},{"p":12,"x":7.64,"y":1.66},{"p":12,"x":7.72,"y":0.38},{"p":12,"x":7.8,"y":1.55},{"p":12,"x":7.88,"y":0.58},{"p":12,"x":7.96,"y":1.63},{"p":12,"x":8.04,"y":0.44},{"p":12,"x":8.12,"y":1.45},{"p":12,"x":8.2,"y":0.65},{"p":12,"x":8.28,"y":1.62},{"p":12,"x":8.36,"y":0.42},{"p":12,"x":8.44,"y":1.48},{"p":12,"x":8.52,"y":0.55},{"p":12,"x":8.6,"y":1.68},{"p":12,"x":8.68,"y":0.37},{"p":12,"x":8.76,"y":1.52},{"p":12,"x":8.84,"y":0.6},{"p":12,"x":8.92,"y":1.6},{"p":12,"x":9.0,"y":0.46},{"p":12,"x":9.08,"y":1.4},{"p":12,"x":9.16,"y":0.52},{"p":12,"x":9.24,"y":1.66},{"p":12,"x":9.32,"y":0.38},{"p":12,"x":9.4,"y":1.55},{"p":12,"x":9.48,"y":0.58},{"p":12,"x":9.56,"y":1.63},{"p":12,"x":9.64,"y":0.44},{"p":12,"x":9.72,"y":1.45},{"p":12,"x":9.8,"y":0.65},{"p":12,"x":9.88,"y":1.62},{"p":12,"x":9.96,"y":0.42},{"p":12,"x":10,"y":1.2},
{"p":13,"x":0,"y":1.3},{"p":13,"x":0.08,"y":0.68},{"p":13,"x":0.16,"y":1.2},{"p":13,"x":0.24,"y":0.78},{"p":13,"x":0.32,"y":1.32},{"p":13,"x":0.4,"y":0.64},{"p":13,"x":0.48,"y":1.24},{"p":13,"x":0.56,"y":0.8},{"p":13,"x":0.64,"y":1.28},{"p":13,"x":0.72,"y":0.7},{"p":13,"x":0.8,"y":1.15},{"p":13,"x":0.88,"y":0.75},{"p":13,"x":0.96,"y":1.31},{"p":13,"x":1.04,"y":0.66},{"p":13,"x":1.12,"y":1.22},{"p":13,"x":1.2,"y":0.82},{"p":13,"x":1.28,"y":1.29},{"p":13,"x":1.36,"y":0.69},{"p":13,"x":1.44,"y":1.18},{"p":13,"x":1.52,"y":0.85},{"p":13,"x":1.6,"y":1.3},{"p":13,"x":1.68,"y":0.68},{"p":13,"x":1.76,"y":1.2},{"p":13,"x":1.84,"y":0.78},{"p":13,"x":1.92,"y":1.32},{"p":13,"x":2.0,"y":0.64},{"p":13,"x":2.08,"y":1.24},{"p":13,"x":2.16,"y":0.8},{"p":13,"x":2.24,"y":1.28},{"p":13,"x":2.32,"y":0.7},{"p":13,"x":2.4,"y":1.15},{"p":13,"x":2.48,"y":0.75},{"p":13,"x":2.56,"y":1.31},{"p":13,"x":2.64,"y":0.66},{"p":13,"x":2.72,"y":1.22},{"p":13,"x":2.8,"y":0.82},{"p":13,"x":2.88,"y":1.29},{"p":13,"x":2.96,"y":0.69},{"p":13,"x":3.04,"y":1.18},{"p":13,"x":3.12,"y":0.85},{"p":13,"x":3.2,"y":1.3},{"p":13,"x":3.28,"y":0.68},{"p":13,"x":3.36,"y":1.2},{"p":13,"x":3.44,"y":0.78},{"p":13,"x":3.52,"y":1.32},{"p":13,"x":3.62,"y":0.72},{"p":13,"x":3.68,"y":0.42},{"p":13,"x":3.7,"y":0.7},{"p":13,"x":3.76,"y":0.72},{"p":13,"x":3.84,"y":1.24},{"p":13,"x":3.92,"y":0.8},{"p":13,"x":4.0,"y":1.28},{"p":13,"x":4.08,"y":0.7},{"p":13,"x":4.16,"y":1.15},{"p":13,"x":4.24,"y":0.75},{"p":13,"x":4.32,"y":1.31},{"p":13,"x":4.4,"y":0.66},{"p":13,"x":4.48,"y":1.22},{"p":13,"x":4.56,"y":0.82},{"p":13,"x":4.64,"y":1.29},{"p":13,"x":4.72,"y":0.69},{"p":13,"x":4.8,"y":1.18},{"p":13,"x":4.88,"y":0.85},{"p":13,"x":4.96,"y":1.3},{"p":13,"x":5.04,"y":0.68},{"p":13,"x":5.12,"y":1.2},{"p":13,"x":5.2,"y":0.78},{"p":13,"x":5.28,"y":1.32},{"p":13,"x":5.36,"y":0.64},{"p":13,"x":5.44,"y":1.24},{"p":13,"x":5.52,"y":0.8},{"p":13,"x":5.6,"y":1.28},{"p":13,"x":5.68,"y":0.7},{"p":13,"x":5.76,"y":1.15},{"p":13,"x":5.84,"y":0.75},{"p":13,"x":5.92,"y":1.31},{"p":13,"x":6.0,"y":0.66},{"p":13,"x":6.08,"y":1.22},{"p":13,"x":6.16,"y":0.82},{"p":13,"x":6.24,"y":1.29},{"p":13,"x":6.32,"y":0.69},{"p":13,"x":6.4,"y":1.18},{"p":13,"x":6.48,"y":0.85},{"p":13,"x":6.56,"y":1.3},{"p":13,"x":6.64,"y":0.68},{"p":13,"x":6.72,"y":1.2},{"p":13,"x":6.8,"y":0.78},{"p":13,"x":6.88,"y":1.32},{"p":13,"x":6.96,"y":0.64},{"p":13,"x":7.04,"y":1.24},{"p":13,"x":7.12,"y":0.8},{"p":13,"x":7.2,"y":1.28},{"p":13,"x":7.28,"y":0.7},{"p":13,"x":7.36,"y":1.15},{"p":13,"x":7.44,"y":0.75},{"p":13,"x":7.52,"y":1.31},{"p":13,"x":7.6,"y":0.72},{"p":13,"x":7.65,"y":0.3},{"p":13,"x":7.67,"y":0.7},{"p":13,"x":7.72,"y":0.72},{"p":13,"x":7.8,"y":1.22},{"p":13,"x":7.88,"y":0.82},{"p":13,"x":7.96,"y":1.29},{"p":13,"x":8.04,"y":0.69},{"p":13,"x":8.12,"y":1.18},{"p":13,"x":8.2,"y":0.85},{"p":13,"x":8.28,"y":1.3},{"p":13,"x":8.36,"y":0.68},{"p":13,"x":8.44,"y":1.2},{"p":13,"x":8.52,"y":0.78},{"p":13,"x":8.6,"y":1.32},{"p":13,"x":8.68,"y":0.64},{"p":13,"x":8.76,"y":1.24},{"p":13,"x":8.84,"y":0.8},{"p":13,"x":8.92,"y":1.28},{"p":13,"x":9.0,"y":0.7},{"p":13,"x":9.08,"y":1.15},{"p":13,"x":9.16,"y":0.75},{"p":13,"x":9.24,"y":1.31},{"p":13,"x":9.32,"y":0.66},{"p":13,"x":9.4,"y":1.22},{"p":13,"x":9.48,"y":0.82},{"p":13,"x":9.56,"y":1.29},{"p":13,"x":9.64,"y":0.69},{"p":13,"x":9.72,"y":1.18},{"p":13,"x":9.8,"y":0.85},{"p":13,"x":9.88,"y":1.3},{"p":13,"x":9.96,"y":0.68},{"p":13,"x":10,"y":1.0},
{"p":14,"x":0,"y":0.55},{"p":14,"x":0.45,"y":-0.36},{"p":14,"x":0.85,"y":-0.1},{"p":14,"x":1.05,"y":0.55},{"p":14,"x":1.55,"y":0.45},{"p":14,"x":2.0,"y":1.1},{"p":14,"x":2.35,"y":0.55},{"p":14,"x":2.5,"y":-0.36},{"p":14,"x":2.95,"y":0.1},{"p":14,"x":3.15,"y":0.45},{"p":14,"x":3.6,"y":1.1},{"p":14,"x":3.95,"y":0.55},{"p":14,"x":4.1,"y":-0.36},{"p":14,"x":4.55,"y":-0.2},{"p":14,"x":4.8,"y":0.45},{"p":14,"x":5.3,"y":1.1},{"p":14,"x":5.65,"y":0.55},{"p":14,"x":6.1,"y":1.1},{"p":14,"x":6.45,"y":0.55},{"p":14,"x":6.6,"y":-0.36},{"p":14,"x":7.05,"y":0.1},{"p":14,"x":7.25,"y":0.55},{"p":14,"x":7.8,"y":1.1},{"p":14,"x":8.15,"y":0.55},{"p":14,"x":8.3,"y":-0.36},{"p":14,"x":8.75,"y":0.1},{"p":14,"x":8.95,"y":0.45},{"p":14,"x":9.4,"y":1.1},{"p":14,"x":9.75,"y":0.55},{"p":14,"x":10,"y":0.55},
{"p":15,"x":0,"y":0.05},{"p":15,"x":0.9,"y":0.1},{"p":15,"x":1.7,"y":0.05},{"p":15,"x":2.0,"y":-0.55},{"p":15,"x":2.5,"y":0.55},{"p":15,"x":2.85,"y":0.05},{"p":15,"x":4.0,"y":-0.6},{"p":15,"x":4.4,"y":0.6},{"p":15,"x":4.75,"y":0.05},{"p":15,"x":5.9,"y":0.55},{"p":15,"x":6.3,"y":0.05},{"p":15,"x":6.55,"y":-0.55},{"p":15,"x":7.0,"y":0.05},{"p":15,"x":8.1,"y":0.6},{"p":15,"x":8.5,"y":0.05},{"p":15,"x":8.85,"y":-0.55},{"p":15,"x":9.3,"y":0.05},{"p":15,"x":10,"y":0.05},
{"p":16,"x":0,"y":-0.64},{"p":16,"x":0.3,"y":-0.6},{"p":16,"x":0.45,"y":-0.64},{"p":16,"x":0.6,"y":-0.55},{"p":16,"x":0.75,"y":-0.64},{"p":16,"x":0.9,"y":-0.5},{"p":16,"x":0.96,"y":0.14},{"p":16,"x":1.25,"y":-0.12},{"p":16,"x":1.6,"y":-0.26},{"p":16,"x":2.0,"y":-0.38},{"p":16,"x":2.5,"y":-0.48},{"p":16,"x":3.0,"y":-0.57},{"p":16,"x":3.5,"y":-0.66},{"p":16,"x":3.85,"y":-0.55},{"p":16,"x":3.95,"y":-0.68},{"p":16,"x":4.05,"y":-0.5},{"p":16,"x":4.14,"y":0.14},{"p":16,"x":4.4,"y":-0.1},{"p":16,"x":4.75,"y":-0.24},{"p":16,"x":5.2,"y":-0.36},{"p":16,"x":5.7,"y":-0.46},{"p":16,"x":6.2,"y":-0.56},{"p":16,"x":6.7,"y":-0.66},{"p":16,"x":7.0,"y":-0.55},{"p":16,"x":7.1,"y":-0.68},{"p":16,"x":7.2,"y":-0.5},{"p":16,"x":7.3,"y":0.16},{"p":16,"x":7.55,"y":-0.1},{"p":16,"x":7.9,"y":-0.22},{"p":16,"x":8.4,"y":-0.36},{"p":16,"x":8.9,"y":-0.46},{"p":16,"x":9.35,"y":-0.56},{"p":16,"x":9.8,"y":-0.62},{"p":16,"x":10,"y":-0.62},
{"p":17,"x":0,"y":-1.18},{"p":17,"x":0.05,"y":0.36},{"p":17,"x":0.07,"y":-1.18},{"p":17,"x":0.26,"y":0.36},{"p":17,"x":0.28,"y":-1.18},{"p":17,"x":0.47,"y":0.36},{"p":17,"x":0.49,"y":-1.18},{"p":17,"x":0.68,"y":0.36},{"p":17,"x":0.7,"y":-1.18},{"p":17,"x":0.89,"y":0.36},{"p":17,"x":0.91,"y":-1.18},{"p":17,"x":1.1,"y":0.36},{"p":17,"x":1.12,"y":-1.18},{"p":17,"x":1.31,"y":0.36},{"p":17,"x":1.33,"y":-1.18},{"p":17,"x":1.52,"y":0.36},{"p":17,"x":1.54,"y":-1.18},{"p":17,"x":1.73,"y":0.36},{"p":17,"x":1.75,"y":-1.18},{"p":17,"x":1.94,"y":0.36},{"p":17,"x":1.96,"y":-1.18},{"p":17,"x":2.15,"y":0.36},{"p":17,"x":2.17,"y":-1.18},{"p":17,"x":2.36,"y":0.36},{"p":17,"x":2.38,"y":-1.18},{"p":17,"x":2.57,"y":0.36},{"p":17,"x":2.59,"y":-1.18},{"p":17,"x":2.78,"y":0.36},{"p":17,"x":2.8,"y":-1.18},{"p":17,"x":2.99,"y":0.36},{"p":17,"x":3.01,"y":-1.18},{"p":17,"x":3.2,"y":0.36},{"p":17,"x":3.22,"y":-1.18},{"p":17,"x":3.41,"y":0.36},{"p":17,"x":3.43,"y":-1.18},{"p":17,"x":3.62,"y":0.36},{"p":17,"x":3.64,"y":-1.18},{"p":17,"x":3.83,"y":0.36},{"p":17,"x":3.85,"y":-1.18},{"p":17,"x":4.04,"y":0.36},{"p":17,"x":4.06,"y":-1.18},{"p":17,"x":4.25,"y":0.36},{"p":17,"x":4.27,"y":-1.18},{"p":17,"x":4.46,"y":0.36},{"p":17,"x":4.48,"y":-1.18},{"p":17,"x":4.67,"y":0.36},{"p":17,"x":4.69,"y":-1.18},{"p":17,"x":4.88,"y":0.36},{"p":17,"x":4.9,"y":-1.18},{"p":17,"x":5.09,"y":0.36},{"p":17,"x":5.11,"y":-1.18},{"p":17,"x":5.3,"y":0.36},{"p":17,"x":5.32,"y":-1.18},{"p":17,"x":5.51,"y":0.36},{"p":17,"x":5.53,"y":-1.18},{"p":17,"x":5.72,"y":0.36},{"p":17,"x":5.74,"y":-1.18},{"p":17,"x":5.93,"y":0.36},{"p":17,"x":5.95,"y":-1.18},{"p":17,"x":6.14,"y":0.36},{"p":17,"x":6.16,"y":-1.18},{"p":17,"x":6.35,"y":0.36},{"p":17,"x":6.37,"y":-1.18},{"p":17,"x":6.56,"y":0.36},{"p":17,"x":6.58,"y":-1.18},{"p":17,"x":6.77,"y":0.36},{"p":17,"x":6.79,"y":-1.18},{"p":17,"x":6.98,"y":0.36},{"p":17,"x":7.0,"y":-1.18},{"p":17,"x":7.19,"y":0.36},{"p":17,"x":7.21,"y":-1.18},{"p":17,"x":7.4,"y":0.36},{"p":17,"x":7.42,"y":-1.18},{"p":17,"x":7.61,"y":0.36},{"p":17,"x":7.63,"y":-1.18},{"p":17,"x":7.82,"y":0.36},{"p":17,"x":7.84,"y":-1.18},{"p":17,"x":8.03,"y":0.36},{"p":17,"x":8.05,"y":-1.18},{"p":17,"x":8.24,"y":0.36},{"p":17,"x":8.26,"y":-1.18},{"p":17,"x":8.45,"y":0.36},{"p":17,"x":8.47,"y":-1.18},{"p":17,"x":8.66,"y":0.36},{"p":17,"x":8.68,"y":-1.18},{"p":17,"x":8.87,"y":0.36},{"p":17,"x":8.89,"y":-1.18},{"p":17,"x":9.08,"y":0.36},{"p":17,"x":9.1,"y":-1.18},{"p":17,"x":9.29,"y":0.36},{"p":17,"x":9.31,"y":-1.18},{"p":17,"x":9.5,"y":0.36},{"p":17,"x":9.52,"y":-1.18},{"p":17,"x":9.71,"y":0.36},{"p":17,"x":9.73,"y":-1.18},{"p":17,"x":9.92,"y":0.36},{"p":17,"x":9.94,"y":-1.18},{"p":17,"x":10,"y":-1.18},
{"p":18,"x":0,"y":-1.0},{"p":18,"x":0.5,"y":1.03},{"p":18,"x":0.52,"y":-1.0},{"p":18,"x":0.55,"y":0.0},{"p":18,"x":0.59,"y":-1.0},{"p":18,"x":1.14,"y":1.03},{"p":18,"x":1.16,"y":-1.0},{"p":18,"x":1.19,"y":0.0},{"p":18,"x":1.23,"y":-1.0},{"p":18,"x":1.78,"y":1.03},{"p":18,"x":1.8,"y":-1.0},{"p":18,"x":1.83,"y":0.0},{"p":18,"x":1.87,"y":-1.0},{"p":18,"x":2.41,"y":1.03},{"p":18,"x":2.43,"y":-1.0},{"p":18,"x":2.46,"y":0.0},{"p":18,"x":2.5,"y":-1.0},{"p":18,"x":3.05,"y":1.03},{"p":18,"x":3.07,"y":-1.0},{"p":18,"x":3.1,"y":0.0},{"p":18,"x":3.14,"y":-1.0},{"p":18,"x":3.69,"y":1.03},{"p":18,"x":3.71,"y":-1.0},{"p":18,"x":3.74,"y":0.0},{"p":18,"x":3.78,"y":-1.0},{"p":18,"x":4.33,"y":1.03},{"p":18,"x":4.35,"y":-1.0},{"p":18,"x":4.38,"y":0.0},{"p":18,"x":4.42,"y":-1.0},{"p":18,"x":4.97,"y":1.03},{"p":18,"x":4.99,"y":-1.0},{"p":18,"x":5.02,"y":0.0},{"p":18,"x":5.06,"y":-1.0},{"p":18,"x":5.6,"y":1.03},{"p":18,"x":5.62,"y":-1.0},{"p":18,"x":5.65,"y":0.0},{"p":18,"x":5.69,"y":-1.0},{"p":18,"x":6.24,"y":1.03},{"p":18,"x":6.26,"y":-1.0},{"p":18,"x":6.29,"y":0.0},{"p":18,"x":6.33,"y":-1.0},{"p":18,"x":6.88,"y":1.03},{"p":18,"x":6.9,"y":-1.0},{"p":18,"x":6.93,"y":0.0},{"p":18,"x":6.97,"y":-1.0},{"p":18,"x":7.52,"y":1.03},{"p":18,"x":7.54,"y":-1.0},{"p":18,"x":7.57,"y":0.0},{"p":18,"x":7.61,"y":-1.0},{"p":18,"x":8.16,"y":1.03},{"p":18,"x":8.18,"y":-1.0},{"p":18,"x":8.21,"y":0.0},{"p":18,"x":8.25,"y":-1.0},{"p":18,"x":8.79,"y":1.03},{"p":18,"x":8.81,"y":-1.0},{"p":18,"x":8.84,"y":0.0},{"p":18,"x":8.88,"y":-1.0},{"p":18,"x":9.43,"y":1.03},{"p":18,"x":9.45,"y":-1.0},{"p":18,"x":9.48,"y":0.0},{"p":18,"x":9.52,"y":-1.0},{"p":18,"x":10,"y":-1.0},
{"p":1,"num":"1","st":"Stopped","dt":"1998/11/18 14:57:27","ch":"CH1=2V","td":"100us/div","td2":"(100us/div)","nm":"NORM:10MS/s","zm":"5K","g1":1.3,"g2":-1.4},
{"p":2,"num":"2","st":"Stopped","dt":"1998/11/18 14:58:08","ch":"CH1=2V","td":"100us/div","td2":"(100us/div)","nm":"NORM:10MS/s","zm":"5K","g1":1.3,"g2":-1.4},
{"p":3,"num":"3","st":"Stopped","dt":"1998/11/18 15:04:56","ch":"CH1=2V","td":"100us/div","td2":"(100us/div)","nm":"NORM:10MS/s","zm":"5K","g1":1.3,"g2":-1.1},
{"p":4,"num":"4","st":"Stopped","dt":"1998/11/18 15:06:19","ch":"CH1=2V","td":"100us/div","td2":"(100us/div)","nm":"NORM:10MS/s","zm":"5K","g1":1.55,"g2":-0.95},
{"p":5,"num":"5","st":"Stopped","dt":"1998/11/18 15:09:26","ch":"CH1=1.00V","td":"100us/div","td2":"(100us/div)","nm":"NORM:10MS/s","zm":"5K","g1":3.65,"g2":-1.1},
{"p":6,"num":"6","st":"","dt":"1998/11/18 15:12:19","ch":"CH1=1.00V","td":"100us/div","td2":"(100us/div)","nm":"NORM:10MS/s","zm":"5K","g1":2.0,"g2":-3.45},
{"p":7,"num":"7","st":"Stopped","dt":"1998/11/18 15:15:28","ch":"CH1=1.64V","td":"5ms/div","td2":"(5ms/div)","nm":"NORM:200kS/s","zm":"5K","g1":3.05,"g2":-1.3},
{"p":8,"num":"8","st":"Stopped","dt":"1998/11/18 15:17:01","ch":"CH1=1.64V","td":"5ms/div","td2":"(5ms/div)","nm":"NORM:200kS/s","zm":"5K","g1":3.05,"g2":-1.3},
{"p":9,"num":"9","st":"Stopped","dt":"1998/11/18 15:18:21","ch":"CH1=1.64V","td":"5ms/div","td2":"(5ms/div)","nm":"NORM:200kS/s","zm":"5K","g1":3.05,"g2":-1.3},
{"p":10,"num":"10","st":"Stopped","dt":"1998/11/18 15:19:53","ch":"CH1=1.00V","td":"5ms/div","td2":"(5ms/div)","nm":"NORM:200kS/s","zm":"4K","g1":1.95,"g2":-1.2},
{"p":11,"num":"11","st":"Stopped","dt":"1998/11/18 15:21:21","ch":"CH1=1.00V","td":"5ms/div","td2":"(5ms/div)","nm":"NORM:200kS/s","zm":"4K","g1":1.95,"g2":-1.2},
{"p":12,"num":"12","st":"Stopped","dt":"1998/11/18 15:23:43","ch":"CH1=1.00V","td":"5ms/div","td2":"(5ms/div)","nm":"NORM:200kS/s","zm":"4K","g1":1.95,"g2":-1.2},
{"p":13,"num":"13","st":"Stopped","dt":"1998/11/18 15:24:48","ch":"CH1=1.00V","td":"5ms/div","td2":"(5ms/div)","nm":"NORM:200kS/s","zm":"4K","g1":2.0,"g2":-1.1},
{"p":14,"num":"14","st":"Stopped","dt":"1998/11/18 15:29:27","ch":"CH1=1.00V","td":"10us/div","td2":"(10us/div)","nm":"NORM:100MS/s","zm":"5K","g1":2.0,"g2":-1.2},
{"p":15,"num":"15","st":"Stopped","dt":"1998/11/18 15:30:47","ch":"CH1=1.00V","td":"10us/div","td2":"(10us/div)","nm":"NORM:100MS/s","zm":"5K","g1":2.0,"g2":-1.2},
{"p":16,"num":"16","st":"","dt":"","ch":"CH1=1.00V","td":"10us/div","td2":"(10us/div)","nm":"NORM:100MS/s","zm":"5K","g1":3.95,"g2":-0.75},
{"p":17,"num":"17","st":"Stopped","dt":"1998/11/18 15:36:07","ch":"CH1=2.50V","td":"50ms/div","td2":"(50ms/div)","nm":"NORM:20kS/s","zm":"4K","g1":1.6,"g2":-1.1},
{"p":18,"num":"18","st":"Stopped","dt":"1998/11/18 15:37:09","ch":"CH1=2.50V","td":"50us/div","td2":"(50us/div)","nm":"NORM:20MS/s","zm":"4K","g1":1.0,"g2":-1.05}
]},
"facet":{"field":"p","type":"ordinal","title":null,"header":{"labels":false,"title":null,"labelExpr":"''","labelFontSize":1,"labelPadding":0}},
"columns":3,
"spacing":{"row":81,"column":36},
"bounds":"flush",
"spec":{
"width":222,"height":176,
"layer":[
{"transform":[{"filter":"isValid(datum.num)"}],
"layer":[
{"mark":{"type":"rect","fill":"transparent","stroke":"#3a3a3a","strokeWidth":1.5},"encoding":{"x":{"datum":-0.9},"x2":{"datum":10.68},"y":{"datum":-5.73},"y2":{"datum":5.955}}},
{"mark":{"type":"rect","fill":"#a3a3a3"},"encoding":{"x":{"datum":-0.9},"x2":{"datum":10.68},"y":{"datum":4.66},"y2":{"datum":5.955}}},
{"mark":{"type":"rule","stroke":"#333333","strokeWidth":2},"encoding":{"x":{"datum":-0.9},"x2":{"datum":10.68},"y":{"datum":4.66}}},
{"mark":{"type":"rule","stroke":"#3a3a3a","strokeWidth":1.5},"encoding":{"x":{"datum":-0.9},"x2":{"datum":10.68},"y":{"datum":5.955}}},
{"mark":{"type":"text","fontSize":19,"fontWeight":"bold","font":"Liberation Sans Narrow, DejaVu Sans Condensed, sans-serif","baseline":"middle","align":"center","color":"#111111"},"encoding":{"x":{"datum":4.89},"y":{"datum":5.3},"text":{"field":"num"}}},
{"mark":{"type":"text","align":"left","baseline":"bottom","fontStyle":"italic"},"encoding":{"x":{"datum":0},"y":{"datum":4.03},"text":{"field":"st"}}},
{"mark":{"type":"text","align":"center","baseline":"bottom","text":"↧","fontSize":7},"encoding":{"x":{"datum":5},"y":{"datum":4.03}}},
{"mark":{"type":"text","align":"right","baseline":"bottom"},"encoding":{"x":{"datum":9.95},"y":{"datum":4.03},"text":{"field":"dt"}}},
{"mark":{"type":"text","align":"left","baseline":"middle"},"encoding":{"x":{"datum":0.35},"y":{"datum":3.76},"text":{"field":"ch"}}},
{"mark":{"type":"text","align":"left","baseline":"middle","text":"DC  10:1"},"encoding":{"x":{"datum":0.55},"y":{"datum":3.48}}},
{"mark":{"type":"text","align":"center","baseline":"middle"},"encoding":{"x":{"datum":8.96},"y":{"datum":3.76},"text":{"field":"td"}}},
{"mark":{"type":"text","align":"center","baseline":"middle"},"encoding":{"x":{"datum":8.96},"y":{"datum":3.48},"text":{"field":"td2"}}},
{"mark":{"type":"text","align":"center","baseline":"middle"},"encoding":{"x":{"datum":8.96},"y":{"datum":3.2},"text":{"field":"nm"}}},
{"mark":{"type":"text","align":"right","baseline":"middle","text":"1▸","fontSize":5},"encoding":{"x":{"datum":-0.03},"y":{"field":"g1","type":"quantitative"}}},
{"mark":{"type":"text","align":"right","baseline":"middle","text":"T","fontSize":5},"encoding":{"x":{"datum":-0.08},"y":{"field":"g2","type":"quantitative"}}},
{"mark":{"type":"text","align":"center","baseline":"alphabetic","text":"=Filter="},"encoding":{"x":{"datum":0.47},"y":{"datum":-4.45}}},
{"mark":{"type":"text","align":"center","baseline":"alphabetic","text":"=Offset="},"encoding":{"x":{"datum":2.8},"y":{"datum":-4.45}}},
{"mark":{"type":"text","align":"center","baseline":"alphabetic","text":"=Record Length="},"encoding":{"x":{"datum":4.93},"y":{"datum":-4.45}}},
{"mark":{"type":"text","align":"center","baseline":"alphabetic","text":"=Trigger="},"encoding":{"x":{"datum":7.93},"y":{"datum":-4.45}}},
{"mark":{"type":"text","align":"left","baseline":"alphabetic","lineHeight":6,"text":["Smoothing : ON","BW : FULL"]},"encoding":{"x":{"datum":-0.5},"y":{"datum":-4.73}}},
{"mark":{"type":"text","align":"left","baseline":"alphabetic","lineHeight":6,"text":["CH1 :","CH2 :","CH3 :","CH4 :"]},"encoding":{"x":{"datum":2.03},"y":{"datum":-4.73}}},
{"mark":{"type":"text","align":"right","baseline":"alphabetic","lineHeight":6,"text":["0.00V","0.00V","0.00V","0.00V"]},"encoding":{"x":{"datum":3.7},"y":{"datum":-4.73}}},
{"mark":{"type":"text","align":"left","baseline":"alphabetic","lineHeight":6,"text":["Main :","Zoom :"]},"encoding":{"x":{"datum":4.37},"y":{"datum":-4.73}}},
{"mark":{"type":"text","align":"right","baseline":"alphabetic","text":"10K"},"encoding":{"x":{"datum":5.86},"y":{"datum":-4.73}}},
{"mark":{"type":"text","align":"right","baseline":"alphabetic"},"encoding":{"x":{"datum":5.86},"y":{"datum":-5.0},"text":{"field":"zm"}}},
{"mark":{"type":"text","align":"left","baseline":"alphabetic","lineHeight":6,"text":["Mode : AUTO","Type : EDGE CH1  ƒ","Delay :","Hold Off :"]},"encoding":{"x":{"datum":7.03},"y":{"datum":-4.73}}},
{"mark":{"type":"text","align":"right","baseline":"alphabetic","lineHeight":6,"text":["0.0ns","MINIMUM"]},"encoding":{"x":{"datum":10.45},"y":{"datum":-5.27}}},
{"mark":{"type":"rule","stroke":"#666666","strokeWidth":1,"strokeDash":[1,1]},"encoding":{"x":{"datum":5}}},
{"mark":{"type":"rule","stroke":"#666666","strokeWidth":1,"strokeDash":[1,1]},"encoding":{"y":{"datum":0}}},
{"mark":{"type":"rule","stroke":"#444444","strokeWidth":3,"strokeDash":[0.8,3.6]},"encoding":{"x":{"datum":5}}},
{"mark":{"type":"rule","stroke":"#444444","strokeWidth":3,"strokeDash":[0.8,3.64]},"encoding":{"y":{"datum":0}}}
]},
{"transform":[{"filter":"isValid(datum.y) && indexof([1,2,3,4,5,10,14,15,16,17,18], datum.p) >= 0"}],
"mark":{"type":"line","interpolate":"step-after","color":"black","strokeWidth":1},
"encoding":{"x":{"field":"x","type":"quantitative","scale":{"domain":[0,10]},"axis":{"values":[1,2,3,4,5,6,7,8,9],"title":null}},"y":{"field":"y","type":"quantitative","scale":{"domain":[-4,4]},"axis":{"values":[-3,-2,-1,0,1,2,3],"title":null}}}},
{"transform":[{"filter":"isValid(datum.y) && indexof([6,7,8,11], datum.p) >= 0"}],
"mark":{"type":"line","color":"black","strokeWidth":1},
"encoding":{"x":{"field":"x","type":"quantitative","scale":{"domain":[0,10]}},"y":{"field":"y","type":"quantitative","scale":{"domain":[-4,4]}}}},
{"transform":[{"filter":"isValid(datum.y) && indexof([12,13], datum.p) >= 0"}],
"mark":{"type":"line","color":"black","strokeWidth":1.7},
"encoding":{"x":{"field":"x","type":"quantitative","scale":{"domain":[0,10]}},"y":{"field":"y","type":"quantitative","scale":{"domain":[-4,4]}}}},
{"transform":[{"filter":"isValid(datum.y) && datum.p == 9"}],
"mark":{"type":"line","color":"black","strokeWidth":3},
"encoding":{"x":{"field":"x","type":"quantitative","scale":{"domain":[0,10]}},"y":{"field":"y","type":"quantitative","scale":{"domain":[-4,4]}}}},
{"transform":[{"filter":"isValid(datum.num) && datum.p == 5"}],
"layer":[
{"mark":{"type":"rect","fill":"white","stroke":"#222222","strokeWidth":1},"encoding":{"x":{"datum":-0.36},"x2":{"datum":2.57},"y":{"datum":-3.68},"y2":{"datum":-4.34}}},
{"mark":{"type":"rect","fill":"black"},"encoding":{"x":{"datum":1.08},"x2":{"datum":2.57},"y":{"datum":-4.0},"y2":{"datum":-4.34}}},
{"mark":{"type":"rule","stroke":"#222222","strokeWidth":1},"encoding":{"x":{"datum":-0.36},"x2":{"datum":2.57},"y":{"datum":-4.0}}},
{"mark":{"type":"text","align":"center","baseline":"middle","text":"CH1  V/DIV"},"encoding":{"x":{"datum":1.1},"y":{"datum":-3.84}}},
{"mark":{"type":"text","align":"center","baseline":"middle","text":"CAL"},"encoding":{"x":{"datum":0.36},"y":{"datum":-4.17}}},
{"mark":{"type":"text","align":"center","baseline":"middle","text":"VAR","color":"white"},"encoding":{"x":{"datum":1.82},"y":{"datum":-4.17}}},
{"mark":{"type":"rect","fill":"white","stroke":"#222222","strokeWidth":1},"encoding":{"x":{"datum":8.74},"x2":{"datum":10.4},"y":{"datum":-3.08},"y2":{"datum":-4.2}}},
{"mark":{"type":"text","align":"left","baseline":"middle","text":"CH1"},"encoding":{"x":{"datum":8.85},"y":{"datum":-3.27}}},
{"mark":{"type":"text","align":"center","baseline":"middle","text":"Variable"},"encoding":{"x":{"datum":9.75},"y":{"datum":-3.6}}},
{"mark":{"type":"text","align":"center","baseline":"middle","text":"1.00  V"},"encoding":{"x":{"datum":9.65},"y":{"datum":-3.93}}}
]},
{"transform":[{"filter":"isValid(datum.num) && datum.p == 17"}],
"layer":[
{"mark":{"type":"rect","fill":"white","stroke":"#222222","strokeWidth":1},"encoding":{"x":{"datum":4.0},"x2":{"datum":7.4},"y":{"datum":4.12},"y2":{"datum":4.36}}},
{"mark":{"type":"rect","fill":"black"},"encoding":{"x":{"datum":5.9},"x2":{"datum":7.4},"y":{"datum":4.12},"y2":{"datum":4.36}}}
]}
]},
"config":{
"view":{"stroke":"#4a4a4a","strokeWidth":1},
"axis":{"labels":false,"ticks":false,"domain":false,"grid":true,"gridColor":"#8c8c8c","gridDash":[1,2],"gridWidth":0.8},
"header":{"labels":false,"title":null,"labelExpr":"''","labelFontSize":1,"labelPadding":0},
"text":{"font":"Liberation Sans Narrow, DejaVu Sans Condensed, sans-serif","fontSize":6.2,"color":"#1a1a1a"}
}
}
